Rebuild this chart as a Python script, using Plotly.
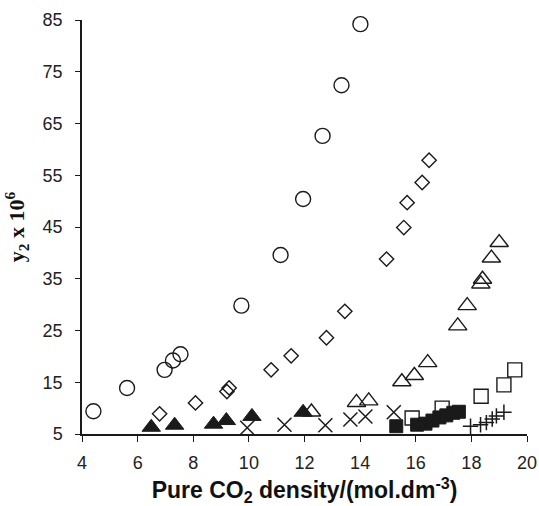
import plotly.graph_objects as go

# Data (pure CO2 density, y2 x 10^6)
circ_x = [4.41, 5.62, 6.97, 7.27, 7.54, 9.73, 11.14, 11.95, 12.65, 13.33, 14.01]
circ_y = [9.4, 13.9, 17.4, 19.2, 20.4, 29.8, 39.6, 50.4, 62.6, 72.4, 84.2]

diam_x = [6.79, 8.08, 9.21, 9.29, 10.8, 11.52, 12.79, 13.45, 14.95, 15.57, 15.69, 16.23, 16.48]
diam_y = [8.9, 11.0, 13.2, 13.9, 17.4, 20.1, 23.6, 28.7, 38.8, 44.9, 49.7, 53.6, 57.9]

otri_x = [12.25, 13.87, 14.31, 15.5, 15.95, 16.43, 17.51, 17.85, 18.34, 18.4, 18.72, 19.0]
otri_y = [9.25, 11.1, 11.4, 15.1, 16.3, 18.8, 25.9, 29.8, 34.0, 34.9, 39.0, 42.0]

ftri_x = [6.49, 7.33, 8.73, 9.19, 10.11, 11.95]
ftri_y = [6.3, 6.7, 6.9, 7.6, 8.4, 9.2]

cross_x = [9.94, 11.28, 12.75, 13.65, 14.19, 15.21]
cross_y = [6.2, 6.8, 6.7, 7.8, 8.4, 9.2]

osq_x = [15.87, 16.95, 18.35, 19.17, 19.56]
osq_y = [8.1, 10.0, 12.3, 14.5, 17.4]

fsq_x = [15.3, 16.05, 16.35, 16.6, 16.85, 17.1, 17.35, 17.55]
fsq_y = [6.5, 6.8, 7.0, 7.6, 8.2, 8.6, 9.1, 9.3]

plus_x = [17.97, 18.33, 18.54, 18.75, 18.9, 19.17]
plus_y = [6.5, 6.8, 7.2, 7.9, 8.5, 9.2]

x_ticks = [4, 6, 8, 10, 12, 14, 16, 18, 20]
y_ticks = [5, 15, 25, 35, 45, 55, 65, 75, 85]

LC = "#1a1a1a"
fig = go.Figure()

def add(x, y, symbol, size, lw=1.4):
    fig.add_trace(go.Scatter(
        x=x, y=y, mode="markers", showlegend=False, cliponaxis=False,
        marker=dict(symbol=symbol, size=size, color=LC,
                    line=dict(color=LC, width=lw))))

add(circ_x, circ_y, "circle-open", 15)
add(diam_x, diam_y, "diamond-open", 11)
add(osq_x, osq_y, "square-open", 14)
add(fsq_x, fsq_y, "square", 13, lw=1)
add(ftri_x, ftri_y, "triangle-up", 16, lw=1)
add(otri_x, otri_y, "triangle-up-open", 16)
add(cross_x, cross_y, "x-thin-open", 14, lw=1.5)
add(plus_x, plus_y, "cross-thin-open", 11, lw=1.5)

fig.update_layout(
    width=539, height=506,
    margin=dict(l=82, r=12, t=20, b=72),
    paper_bgcolor="white", plot_bgcolor="white",
    font=dict(family="Liberation Sans, Arial", size=18, color="#222"),
    xaxis=dict(range=[4, 20], tickvals=x_ticks, ticktext=[str(v) for v in x_ticks],
               showgrid=False, zeroline=False, showline=True, linecolor=LC, linewidth=1.5,
               ticks="outside", ticklen=6, tickcolor=LC, tickwidth=1.2,
               ticklabelstandoff=6, automargin=False,
               title=dict(text="<b>Pure CO<sub>2</sub> density/(mol.dm<sup>-3</sup>)</b>",
                          font=dict(family="Liberation Sans, Arial", size=23, color="#111"),
                          standoff=11)),
    yaxis=dict(range=[5, 85], tickvals=y_ticks, ticktext=[str(v) for v in y_ticks],
               showgrid=False, zeroline=False, showline=True, linecolor=LC, linewidth=1.5,
               ticks="outside", ticklen=5, tickcolor=LC, tickwidth=1.2,
               ticklabelstandoff=9, automargin=False,
               title=dict(text="<b>y<sub>2</sub> x 10<sup>6</sup></b>",
                          font=dict(family="Liberation Serif, Times New Roman", size=22, color="#111"),
                          standoff=12)),
)

# remove the default 8px body margin so the figure fills the window exactly
fig.write_html("out.html", config={"displayModeBar": False},
               post_script="document.body.style.margin='0';document.body.style.overflow='hidden';")
